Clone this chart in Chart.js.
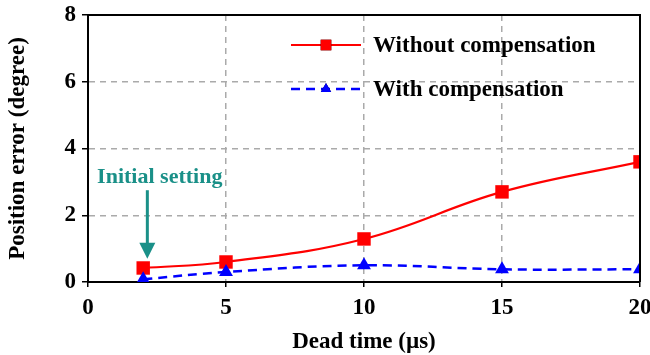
<!DOCTYPE html>
<html><head><meta charset="utf-8">
<script src="https://cdn.jsdelivr.net/npm/chart.js@4/dist/chart.umd.min.js"></script>
<style>html,body{margin:0;padding:0;background:#fff}#wrap{width:650px;height:355px}</style>
</head><body><div id="wrap"><canvas id="c"></canvas></div>
<script>
const deadTime = [2, 5, 10, 15, 20];
const withoutComp = [0.42, 0.6, 1.29, 2.7, 3.6];
const withComp = [0.08, 0.3, 0.5, 0.38, 0.38];
const xTicks = [0, 5, 10, 15, 20];
const yTicks = [0, 2, 4, 6, 8];
const seriesLabels = ['Without compensation', 'With compensation'];

const FONT = '"Liberation Serif", "Times New Roman", serif';

const boxPlugin = {
  id: 'box',
  afterDatasetsDraw(chart) {
    const {ctx, chartArea: a} = chart;
    ctx.save();
    ctx.strokeStyle = '#000'; ctx.lineWidth = 2;
    ctx.beginPath();
    ctx.moveTo(a.left, a.top); ctx.lineTo(a.right, a.top); ctx.lineTo(a.right, a.bottom);
    ctx.stroke();
    ctx.restore();
  }
};

const legendPlugin = {
  id: 'customLegend',
  afterDraw(chart) {
    const ctx = chart.ctx;
    const items = [
      {y: 45, ds: chart.data.datasets[0]},
      {y: 89, ds: chart.data.datasets[1]}
    ];
    ctx.save();
    items.forEach(it => {
      const ds = it.ds;
      ctx.strokeStyle = ds.borderColor; ctx.lineWidth = ds.borderWidth;
      ctx.setLineDash(ds.borderDash || []);
      ctx.beginPath(); ctx.moveTo(291, it.y); ctx.lineTo(361, it.y); ctx.stroke();
      ctx.setLineDash([]);
      Chart.helpers.drawPoint(ctx, {pointStyle: ds.pointStyle, radius: ds.pointStyle === 'rect' ? 7.5 : 6, rotation: 0, borderWidth: 0}, 326, it.y);
      ctx.fillStyle = ds.pointBackgroundColor; ctx.fill();
      ctx.fillStyle = '#000';
      ctx.font = 'bold 23px ' + FONT;
      ctx.textBaseline = 'middle'; ctx.textAlign = 'left';
      ctx.fillText(ds.label, 373, it.y + 1);
    });
    ctx.restore();
  }
};

const annotPlugin = {
  id: 'annot',
  afterDraw(chart) {
    const {ctx, scales: {x, y}} = chart;
    const ax = x.getPixelForValue(2.15);
    const y1 = y.getPixelForValue(2.75), y2 = y.getPixelForValue(0.7);
    ctx.save();
    ctx.fillStyle = '#1a9088'; ctx.strokeStyle = '#1a9088';
    ctx.font = 'bold 22px ' + FONT;
    ctx.textAlign = 'center'; ctx.textBaseline = 'middle';
    ctx.fillText('Initial setting', x.getPixelForValue(2.6), y.getPixelForValue(3.15));
    ctx.lineWidth = 3;
    ctx.beginPath(); ctx.moveTo(ax, y1); ctx.lineTo(ax, y2 - 14); ctx.stroke();
    ctx.beginPath(); ctx.moveTo(ax - 8, y2 - 16); ctx.lineTo(ax + 8, y2 - 16); ctx.lineTo(ax, y2); ctx.closePath(); ctx.fill();
    ctx.restore();
  }
};

new Chart(document.getElementById('c'), {
  type: 'line',
  data: {
    datasets: [
      {
        label: seriesLabels[0],
        data: deadTime.map((t, i) => ({x: t, y: withoutComp[i]})),
        borderColor: '#ff0000', backgroundColor: '#ff0000',
        pointBackgroundColor: '#ff0000', pointBorderWidth: 0,
        borderWidth: 2.2, pointStyle: 'rect', pointRadius: 9.5, tension: 0.4, order: 2
      },
      {
        label: seriesLabels[1],
        data: deadTime.map((t, i) => ({x: t, y: withComp[i]})),
        borderColor: '#0000ff', backgroundColor: '#0000ff',
        pointBackgroundColor: '#0000ff', pointBorderWidth: 0,
        borderWidth: 2.5, borderDash: [9, 6], pointStyle: 'triangle', pointRadius: 8, tension: 0.4, order: 1
      }
    ]
  },
  options: {
    responsive: true, maintainAspectRatio: false, animation: false,
    layout: {padding: {left: 0, right: 0, top: 15, bottom: 0}},
    plugins: {legend: {display: false}, tooltip: {enabled: false}},
    scales: {
      x: {
        type: 'linear', min: 0, max: 20,
        afterBuildTicks: s => { s.ticks = xTicks.map(v => ({value: v})); },
        afterFit: s => { s.height = 73; s.paddingRight = 10; s.paddingLeft = 0; },
        grid: {color: c => (c.tick.value === 0 || c.tick.value === 20) ? 'rgba(0,0,0,0)' : '#aaaaaa', lineWidth: 1.5, tickColor: '#000', tickLength: 5, drawTicks: true},
        border: {color: '#000', width: 2, dash: [6, 5]},
        ticks: {color: '#000', font: {family: FONT, size: 23, weight: 'bold'}, padding: 7, maxRotation: 0},
        title: {display: true, text: 'Dead time (µs)', color: '#000', font: {family: FONT, size: 23, weight: 'bold'}, padding: {top: 5, bottom: -1}}
      },
      y: {
        min: 0, max: 8,
        afterBuildTicks: s => { s.ticks = yTicks.map(v => ({value: v})); },
        afterFit: s => { s.width = 88; s.paddingTop = 0; s.paddingBottom = 0; },
        grid: {color: c => (c.tick.value === 0 || c.tick.value === 8) ? 'rgba(0,0,0,0)' : '#aaaaaa', lineWidth: 1.5, tickColor: '#000', tickLength: 6},
        border: {color: '#000', width: 2, dash: [6, 5]},
        ticks: {color: '#000', font: {family: FONT, size: 23, weight: 'bold'}, padding: 6},
        title: {display: true, text: 'Position error (degree)', color: '#000', font: {family: FONT, size: 23, weight: 'bold'}, padding: {bottom: 4}}
      }
    }
  },
  plugins: [boxPlugin, legendPlugin, annotPlugin]
});
</script></body></html>
